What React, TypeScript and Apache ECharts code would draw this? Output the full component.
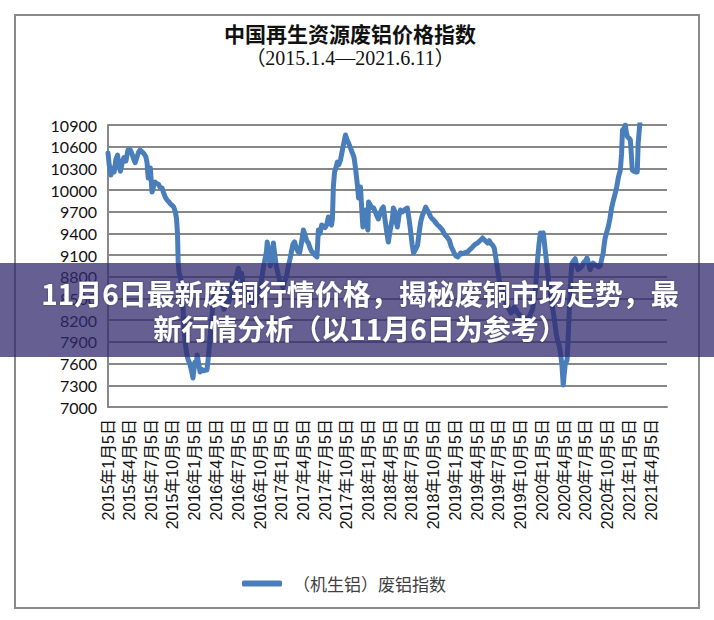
import React, { useEffect, useRef } from 'react';
import * as echarts from 'echarts';

const TITLE = '中国再生资源废铝价格指数';
const SUBTITLE = '（2015.1.4—2021.6.11）';
const BANNER_LINE1 = '11月6日最新废铜行情价格，揭秘废铜市场走势，最';
const BANNER_LINE2 = '新行情分析（以11月6日为参考）';
const SERIES_NAME = '（机生铝）废铝指数';

const Y_MIN = 7000;
const Y_MAX = 10900;
const Y_STEP = 300;
const X_START = '2015-01-05';
const X_END = '2021-06-11';

const QUARTER_TICKS = [
  '2015-01-05', '2015-04-05', '2015-07-05', '2015-10-05',
  '2016-01-05', '2016-04-05', '2016-07-05', '2016-10-05',
  '2017-01-05', '2017-04-05', '2017-07-05', '2017-10-05',
  '2018-01-05', '2018-04-05', '2018-07-05', '2018-10-05',
  '2019-01-05', '2019-04-05', '2019-07-05', '2019-10-05',
  '2020-01-05', '2020-04-05', '2020-07-05', '2020-10-05',
  '2021-01-05', '2021-04-05',
];

const dates2015 = ['2015-01-05','2015-01-10','2015-01-17','2015-01-24','2015-01-31','2015-02-07','2015-02-14','2015-02-21','2015-02-26','2015-03-06','2015-03-13','2015-03-21','2015-03-30','2015-04-08','2015-04-16','2015-04-23','2015-04-29','2015-05-06','2015-05-13','2015-05-20','2015-05-28','2015-06-06','2015-06-13','2015-06-18','2015-06-23','2015-06-28','2015-07-02','2015-07-09','2015-07-16','2015-07-22','2015-07-29','2015-08-05','2015-08-12','2015-08-20','2015-08-27','2015-09-03','2015-09-10','2015-09-17','2015-09-24','2015-10-01','2015-10-08','2015-10-15','2015-10-20','2015-10-24','2015-10-27','2015-10-31','2015-11-05','2015-11-10','2015-11-15','2015-11-20','2015-11-25','2015-12-01','2015-12-08','2015-12-15','2015-12-22','2015-12-28'];
const values2015 = [10513,10350,10208,10300,10250,10420,10485,10330,10260,10380,10450,10400,10554,10560,10500,10430,10380,10450,10520,10554,10530,10500,10460,10380,10167,10250,10305,9973,10060,10110,10090,10080,10040,10029,9960,9900,9863,9840,9810,9790,9766,9700,9600,9400,8990,8850,8800,8700,8450,8100,7900,7750,7650,7600,7500,7400];

const dates2016 = ['2016-01-05','2016-01-10','2016-01-15','2016-01-21','2016-01-27','2016-02-03','2016-02-10','2016-02-18','2016-02-25','2016-03-02','2016-03-08','2016-03-15','2016-03-22','2016-03-29','2016-04-06','2016-04-13','2016-04-20','2016-04-28','2016-05-06','2016-05-13','2016-05-20','2016-05-27','2016-06-03','2016-06-10','2016-06-17','2016-06-24','2016-07-01','2016-07-06','2016-07-12','2016-07-19','2016-07-26','2016-08-02','2016-08-09','2016-08-16','2016-08-23','2016-08-30','2016-09-06','2016-09-13','2016-09-20','2016-09-27','2016-10-06','2016-10-13','2016-10-20','2016-10-26','2016-11-01','2016-11-04','2016-11-10','2016-11-17','2016-11-24','2016-11-30','2016-12-06','2016-12-12','2016-12-19','2016-12-26'];
const values2016 = [7620,7580,7719,7600,7484,7520,7500,7510,7512,7700,7927,8200,8450,8600,8550,8700,8600,8450,8350,8400,8550,8450,8600,8700,8650,8750,8850,8920,8800,8850,8700,8550,8600,8500,8450,8550,8500,8400,8450,8600,8650,8800,8950,9050,9150,9282,9100,8950,9150,9268,9100,8950,8850,8750];

const dates2017 = ['2017-01-03','2017-01-10','2017-01-17','2017-01-24','2017-02-01','2017-02-08','2017-02-14','2017-02-20','2017-02-27','2017-03-06','2017-03-13','2017-03-20','2017-03-27','2017-04-05','2017-04-12','2017-04-19','2017-04-26','2017-05-03','2017-05-10','2017-05-17','2017-05-24','2017-06-01','2017-06-07','2017-06-14','2017-06-21','2017-06-28','2017-07-05','2017-07-12','2017-07-19','2017-07-26','2017-08-01','2017-08-05','2017-08-09','2017-08-14','2017-08-19','2017-08-26','2017-09-01','2017-09-08','2017-09-16','2017-09-22','2017-09-29','2017-10-05','2017-10-12','2017-10-20','2017-10-28','2017-11-04','2017-11-10','2017-11-17','2017-11-23','2017-12-01','2017-12-06','2017-12-11','2017-12-16','2017-12-22','2017-12-28'];
const values2017 = [8700,8650,8750,8800,8950,9050,9150,9250,9282,9200,9150,9130,9250,9448,9380,9300,9268,9200,9150,9130,9100,9075,9448,9400,9517,9500,9480,9517,9628,9550,9517,9600,10043,10250,10300,10389,10350,10416,10554,10650,10762,10700,10651,10580,10513,10450,10305,10100,9890,10043,9750,9490,9600,9725,9500];

const dates2018 = ['2018-01-01','2018-01-04','2018-01-10','2018-01-17','2018-01-25','2018-02-01','2018-02-07','2018-02-14','2018-02-22','2018-03-01','2018-03-07','2018-03-16','2018-03-22','2018-03-28','2018-04-05','2018-04-14','2018-04-18','2018-04-25','2018-05-01','2018-05-05','2018-05-12','2018-05-18','2018-05-26','2018-06-02','2018-06-09','2018-06-16','2018-06-23','2018-06-29','2018-07-06','2018-07-12','2018-07-20','2018-07-29','2018-08-04','2018-08-11','2018-08-18','2018-08-25','2018-09-01','2018-09-08','2018-09-15','2018-09-22','2018-09-29','2018-10-06','2018-10-13','2018-10-20','2018-10-27','2018-11-03','2018-11-10','2018-11-17','2018-11-24','2018-12-03','2018-12-10','2018-12-17','2018-12-24','2018-12-31'];
const values2018 = [9448,9835,9800,9760,9752,9700,9650,9600,9680,9740,9766,9545,9400,9282,9450,9600,9752,9700,9550,9490,9650,9725,9700,9720,9740,9752,9600,9448,9250,9130,9180,9240,9400,9559,9650,9700,9766,9720,9680,9628,9600,9580,9550,9520,9500,9476,9450,9400,9370,9337,9300,9220,9171,9120];

const dates2019 = ['2019-01-06','2019-01-13','2019-01-20','2019-01-26','2019-02-02','2019-02-10','2019-02-17','2019-02-24','2019-03-03','2019-03-10','2019-03-17','2019-03-24','2019-03-31','2019-04-07','2019-04-14','2019-04-21','2019-04-28','2019-05-05','2019-05-12','2019-05-19','2019-05-26','2019-06-02','2019-06-09','2019-06-16','2019-06-22','2019-06-30','2019-07-07','2019-07-14','2019-07-21','2019-07-28','2019-08-04','2019-08-11','2019-08-18','2019-08-25','2019-09-01','2019-09-08','2019-09-15','2019-09-22','2019-09-29','2019-10-06','2019-10-13','2019-10-20','2019-10-27','2019-11-03','2019-11-10','2019-11-17','2019-11-24','2019-12-01','2019-12-07','2019-12-14','2019-12-21','2019-12-27'];
const values2019 = [9090,9075,9100,9130,9120,9130,9140,9144,9170,9190,9213,9240,9255,9268,9290,9310,9337,9310,9290,9268,9300,9260,9240,9200,9075,8900,8750,8700,8600,8550,8450,8400,8350,8300,8320,8380,8350,8300,8280,8250,8230,8200,8200,8220,8250,8300,8350,8500,8650,9000,9250,9407];

const dates2020 = ['2020-01-03','2020-01-08','2020-01-12','2020-01-16','2020-01-22','2020-01-29','2020-02-05','2020-02-15','2020-02-22','2020-03-03','2020-03-10','2020-03-15','2020-03-20','2020-03-26','2020-04-01','2020-04-05','2020-04-09','2020-04-13','2020-04-17','2020-04-21','2020-04-26','2020-04-30','2020-05-04','2020-05-08','2020-05-14','2020-05-21','2020-05-28','2020-06-02','2020-06-10','2020-06-19','2020-06-26','2020-07-03','2020-07-10','2020-07-17','2020-07-23','2020-07-30','2020-08-04','2020-08-12','2020-08-21','2020-08-28','2020-09-03','2020-09-10','2020-09-16','2020-09-20','2020-09-24','2020-10-01','2020-10-07','2020-10-14','2020-10-21','2020-10-29','2020-11-06','2020-11-12','2020-11-19','2020-11-27','2020-12-02','2020-12-06','2020-12-12','2020-12-18','2020-12-22','2020-12-27'];
const values2020 = [9400,9407,9300,9171,9000,8800,8600,8400,8250,8000,7900,7850,7750,7600,7304,7450,7580,7620,7650,7900,8300,8600,8850,8990,9020,9050,8950,8900,8920,8950,9000,9020,9060,8980,8900,8950,8990,8970,8950,8940,8950,9050,9130,9250,9337,9420,9490,9600,9750,9863,9960,10050,10181,10278,10500,10831,10850,10900,10800,10734];

const dates2021 = ['2021-01-02','2021-01-08','2021-01-12','2021-01-16','2021-01-23','2021-01-30','2021-02-06','2021-02-10','2021-02-15','2021-02-19','2021-02-26','2021-03-10','2021-03-25','2021-04-10','2021-04-25','2021-05-10','2021-05-20','2021-06-01','2021-06-11'];
const values2021 = [10720,10692,10500,10278,10260,10250,10250,10651,10850,11000,11300,11600,11800,12000,12300,13200,12800,12600,12700];

const ALL_DATES = [...dates2015, ...dates2016, ...dates2017, ...dates2018, ...dates2019, ...dates2020, ...dates2021];
const ALL_VALUES = [...values2015, ...values2016, ...values2017, ...values2018, ...values2019, ...values2020, ...values2021];

function toTime(s: string): number {
  const [y, m, d] = s.split('-').map(Number);
  return new Date(y, m - 1, d).getTime();
}

export default function App() {
  const ref = useRef<HTMLDivElement>(null);

  useEffect(() => {
    if (!ref.current) return;
    const chart = echarts.init(ref.current, undefined, { renderer: 'svg' });
    const data = ALL_DATES.map((d, i) => [toTime(d), ALL_VALUES[i]]);
    const cjk = '"Noto Sans CJK SC", sans-serif';

    chart.setOption({
      animation: false,
      backgroundColor: '#ffffff',
      grid: { left: 108, right: 47, top: 125, bottom: 213, containLabel: false },
      legend: {
        data: [SERIES_NAME],
        left: 237,
        top: 570,
        icon: 'roundRect',
        itemWidth: 40,
        itemHeight: 6,
        textStyle: { fontSize: 17, color: '#404040', fontFamily: cjk, padding: [0, 0, 0, 6] },
      },
      xAxis: {
        type: 'value',
        min: toTime(X_START),
        max: toTime(X_END),
        axisLine: { show: true, lineStyle: { color: '#888888', width: 2 } },
        axisTick: { show: false },
        splitLine: { show: false },
        axisLabel: {
          customValues: QUARTER_TICKS.map(toTime),
          rotate: 90,
          margin: 12,
          fontSize: 16,
          color: '#111111',
          fontFamily: '"Liberation Sans", "Noto Sans CJK SC", sans-serif',
          formatter: (v: number) => {
            const d = new Date(v);
            return `${d.getFullYear()}年${d.getMonth() + 1}月${d.getDate()}日`;
          },
        },
      },
      yAxis: {
        type: 'value',
        min: Y_MIN,
        max: Y_MAX,
        interval: Y_STEP,
        axisLine: { show: true, lineStyle: { color: '#888888', width: 2 } },
        axisTick: { show: false },
        splitLine: { show: true, lineStyle: { color: '#888888', width: 2 } },
        axisLabel: {
          margin: 11,
          fontSize: 16,
          color: '#111111',
          fontFamily: 'Lato, "Liberation Sans", sans-serif',
          formatter: (v: number) => String(v),
        },
      },
      series: [
        {
          name: SERIES_NAME,
          type: 'line',
          data,
          symbol: 'none',
          clip: true,
          color: '#4A7EBB',
          lineStyle: { width: 5, color: '#4A7EBB', cap: 'round', join: 'round' },
        },
      ],
      graphic: [
        {
          type: 'rect',
          z: 1,
          shape: { x: 15, y: 15, width: 684, height: 593 },
          style: { fill: 'none', stroke: '#8a8a8a', lineWidth: 2 },
        },
        {
          type: 'text',
          z: 10,
          x: 350,
          y: 33,
          style: {
            text: TITLE,
            fontSize: 21,
            fontWeight: 'bold',
            fontFamily: cjk,
            fill: '#111111',
            textAlign: 'center',
            align: 'center',
            textVerticalAlign: 'middle',
            verticalAlign: 'middle',
          },
        },
        {
          type: 'text',
          z: 10,
          x: 350,
          y: 58,
          style: {
            text: SUBTITLE,
            fontSize: 20,
            fontFamily: '"Liberation Serif", "Noto Sans CJK SC", serif',
            fill: '#111111',
            textAlign: 'center',
            align: 'center',
            textVerticalAlign: 'middle',
            verticalAlign: 'middle',
          },
        },
        {
          type: 'rect',
          z: 100,
          shape: { x: 0, y: 263, width: 714, height: 94 },
          style: { fill: 'rgba(50,42,110,0.75)' },
        },
        {
          type: 'text',
          z: 101,
          x: 360,
          y: 310,
          style: {
            text: BANNER_LINE1 + '\n' + BANNER_LINE2,
            fontSize: 28,
            lineHeight: 35,
            fontWeight: 'bold',
            fontFamily: cjk,
            fill: '#ffffff',
            textAlign: 'center',
            align: 'center',
            textVerticalAlign: 'middle',
            verticalAlign: 'middle',
            textShadowColor: 'rgba(0,0,0,0.35)',
            textShadowBlur: 2,
          },
        },
      ],
    });

    return () => chart.dispose();
  }, []);

  return (
    <div
      ref={ref}
      style={{ position: 'fixed', left: 0, top: 0, width: 714, height: 620, background: '#fff' }}
    />
  );
}
